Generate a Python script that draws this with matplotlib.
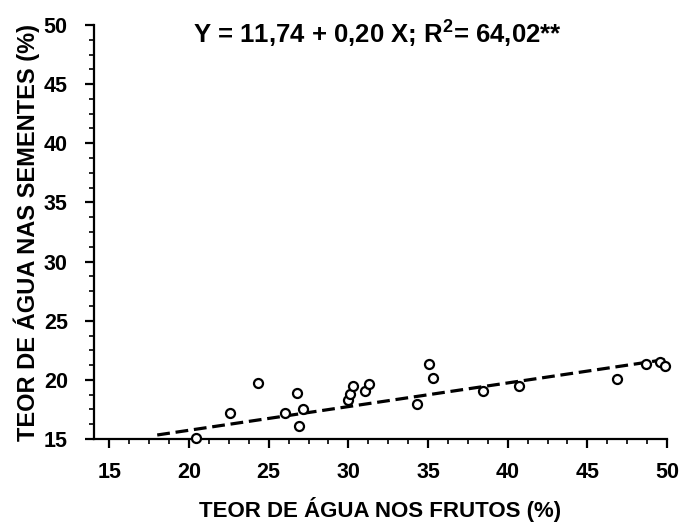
import matplotlib
matplotlib.use("Agg")
import matplotlib.pyplot as plt
from matplotlib.ticker import MultipleLocator
import numpy as np

plt.rcParams['font.family'] = ['Liberation Sans', 'DejaVu Sans']
plt.rcParams['font.weight'] = 'bold'
plt.rcParams['mathtext.fontset'] = 'custom'
plt.rcParams['mathtext.bf'] = 'Liberation Sans:bold'
plt.rcParams['mathtext.rm'] = 'Liberation Sans:bold'

# data: water content of fruits (x) vs seeds (y)
frutos = [20.46, 22.56, 24.32, 26.0, 26.77, 26.9, 27.17, 29.96, 30.13, 30.31,
          31.07, 31.28, 34.3, 35.05, 35.31, 38.45, 40.7, 46.87, 48.65, 49.55, 49.9]
sementes = [15.1, 17.22, 19.76, 17.17, 18.9, 16.1, 17.5, 18.3, 18.8, 19.48,
            19.08, 19.62, 18.0, 21.34, 20.13, 19.06, 19.5, 20.07, 21.34, 21.53, 21.2]
intercept = 11.74
slope = 0.20
fit_range = [18.0, 50.0]
x_ticks = [15, 20, 25, 30, 35, 40, 45, 50]
y_ticks = [15, 20, 25, 30, 35, 40, 45, 50]

fig = plt.figure(figsize=(6.83, 5.24), dpi=100)
ax = fig.add_axes([0.1369, 0.1622, 0.9766 - 0.1369, 0.9523 - 0.1622])

xf = np.array(fit_range)
ax.plot(xf, intercept + slope * xf, color='black', lw=2.3, ls=(0, (4, 1.8)), zorder=2)
ax.plot(frutos, sementes, 'o', mfc='white', mec='black', ms=6.5, mew=1.6,
        clip_on=False, zorder=3)

ax.set_xlim(14, 50)
ax.set_ylim(15, 50)
ax.set_xticks(x_ticks)
ax.set_yticks(y_ticks)
ax.xaxis.set_minor_locator(MultipleLocator(1.25))
ax.yaxis.set_minor_locator(MultipleLocator(1.25))

for s in ['top', 'right']:
    ax.spines[s].set_visible(False)
for s in ['left', 'bottom']:
    ax.spines[s].set_linewidth(1.6)

ax.tick_params(which='major', direction='out', length=6.5, width=1.6,
               labelsize=15.5)
ax.tick_params(axis='x', which='major', pad=10)
ax.tick_params(axis='y', which='major', pad=12)
ax.tick_params(which='minor', direction='out', length=3.5, width=1.2)
for lab in ax.get_xticklabels() + ax.get_yticklabels():
    lab.set_fontweight('bold')

ax.set_xlabel('TEOR DE ÁGUA NOS FRUTOS (%)', fontsize=16, fontweight='bold', labelpad=10)
ax.set_ylabel('TEOR DE ÁGUA NAS SEMENTES (%)', fontsize=17, fontweight='bold', labelpad=3)

fig.text(0.552, 0.937, r'Y = 11,74 + 0,20 X; R$^{\mathbf{2}}$= 64,02**',
         ha='center', va='center', fontsize=18.5, fontweight='bold')

fig.savefig('out.png', dpi=100)
